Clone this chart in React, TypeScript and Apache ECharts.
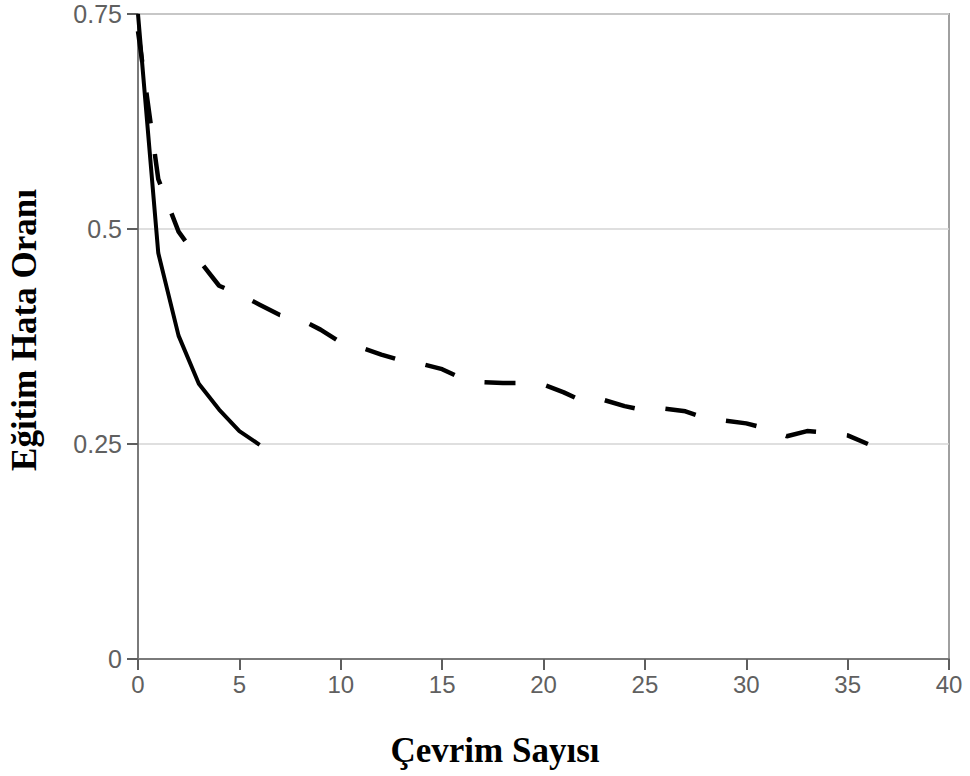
import React, { useEffect, useRef } from "react";
import * as echarts from "echarts";

const solidX = [0, 1, 2, 3, 4, 5, 6];
const solidY = [0.75, 0.472, 0.376, 0.32, 0.29, 0.265, 0.249];

const dashedX = [
  0, 1, 2, 3, 4, 5, 6, 7, 8, 9, 10, 11, 12, 13, 14, 15, 16, 17, 18, 19, 20, 21,
  22, 23, 24, 25, 26, 27, 28, 29, 30, 31, 32, 33, 34, 35, 36,
];
const dashedY = [
  0.73, 0.558, 0.497, 0.464, 0.434, 0.424, 0.412, 0.4, 0.395, 0.383, 0.368,
  0.362, 0.354, 0.347, 0.343, 0.337, 0.326, 0.322, 0.321, 0.321, 0.319, 0.31,
  0.299, 0.301, 0.294, 0.289, 0.291, 0.288, 0.28, 0.277, 0.274, 0.268, 0.259,
  0.265, 0.263, 0.26, 0.25,
];

const xTitle = "Çevrim Sayısı";
const yTitle = "Eğitim Hata Oranı";

export default function App() {
  const ref = useRef<HTMLDivElement>(null);
  useEffect(() => {
    if (!ref.current) return;
    const chart = echarts.init(ref.current, null, { renderer: "svg" });
    const tickFont = "'Liberation Sans', Arial, sans-serif";
    const titleFont = "'Liberation Serif', 'Times New Roman', serif";
    chart.setOption({
      animation: false,
      backgroundColor: "#ffffff",
      grid: {
        left: 138,
        right: 21,
        top: 14,
        bottom: 117,
        show: true,
        borderColor: "#a0a0a0",
        borderWidth: 2,
        backgroundColor: "transparent",
      },
      xAxis: {
        type: "value",
        min: 0,
        max: 40,
        interval: 5,
        axisLine: { show: true, onZero: false, lineStyle: { color: "#7a7a7a", width: 2 } },
        axisTick: { show: true, inside: false, length: 11, lineStyle: { color: "#5e5e5e", width: 2 } },
        axisLabel: { color: "#606060", fontSize: 24, fontFamily: tickFont, margin: 13 },
        splitLine: { show: false },
      },
      yAxis: {
        type: "value",
        min: 0,
        max: 0.75,
        interval: 0.25,
        axisLine: { show: true, lineStyle: { color: "#7a7a7a", width: 2 } },
        axisTick: { show: true, inside: false, length: 11, lineStyle: { color: "#5e5e5e", width: 2 } },
        axisLabel: { color: "#606060", fontSize: 25, fontFamily: tickFont, margin: 16 },
        splitLine: { show: true, lineStyle: { color: "#d4d4d4", width: 1.5 } },
      },
      graphic: [
        {
          type: "text",
          x: 495,
          y: 750,
          style: {
            text: xTitle,
            font: `bold 35px ${titleFont}`,
            fill: "#000000",
            textAlign: "center",
            textVerticalAlign: "middle",
          },
        },
        {
          type: "text",
          x: 24,
          y: 330,
          rotation: Math.PI / 2,
          style: {
            text: yTitle,
            font: `bold 35px ${titleFont}`,
            fill: "#000000",
            textAlign: "center",
            textVerticalAlign: "middle",
          },
        },
      ],
      series: [
        {
          type: "line",
          data: dashedX.map((x, i) => [x, dashedY[i]]),
          showSymbol: false,
          symbol: "none",
          lineStyle: { color: "#000000", width: 4.5, type: [31, 31] },
          z: 3,
        },
        {
          type: "line",
          data: solidX.map((x, i) => [x, solidY[i]]),
          showSymbol: false,
          symbol: "none",
          lineStyle: { color: "#000000", width: 4, type: "solid" },
          z: 4,
        },
      ],
    });
    return () => chart.dispose();
  }, []);
  return (
    <div
      ref={ref}
      style={{ position: "absolute", left: 0, top: 0, width: 970, height: 776 }}
    />
  );
}
